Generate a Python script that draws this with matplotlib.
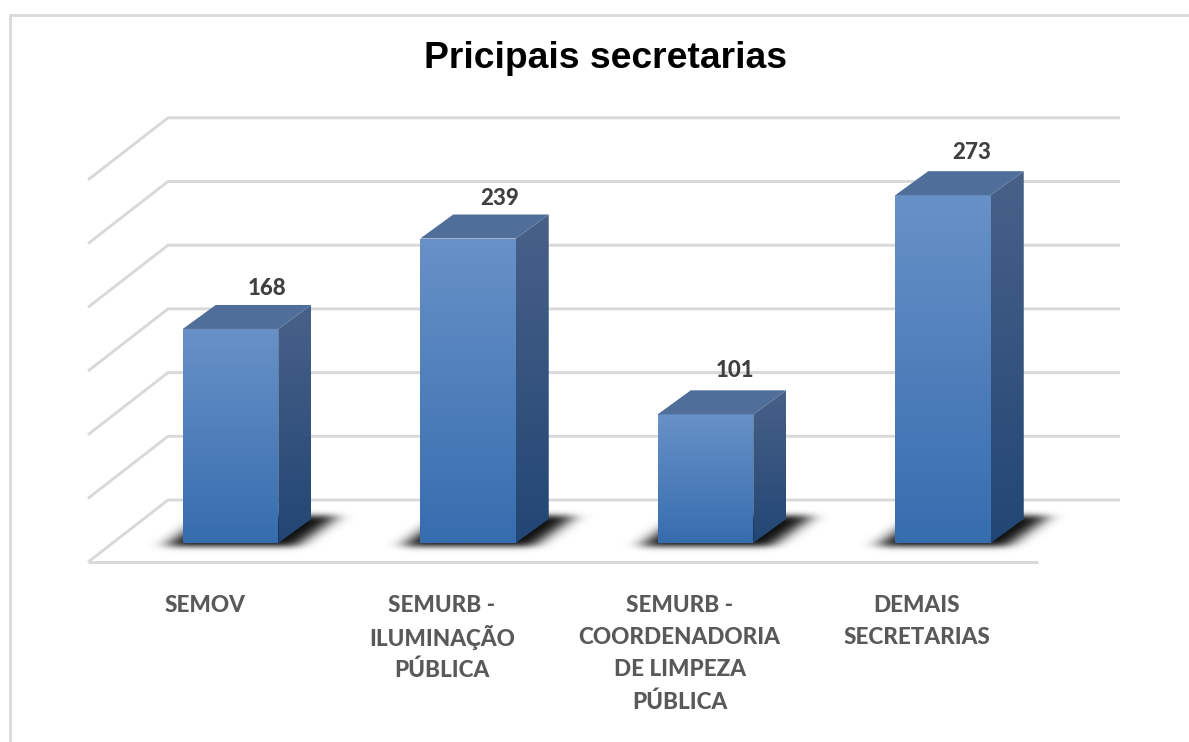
import numpy as np
import matplotlib
matplotlib.use("Agg")
import matplotlib.pyplot as plt
from matplotlib.patches import Polygon

categories = ["SEMOV", "SEMURB -\nILUMINAÇÃO\nPÚBLICA", "SEMURB -\nCOORDENADORIA\nDE LIMPEZA\nPÚBLICA", "DEMAIS\nSECRETARIAS"]
values = [168, 239, 101, 273]
grid_values = [0, 50, 100, 150, 200, 250, 300]
title = "Pricipais secretarias"

# one category step is 237.5 px, one unit of value is 1.274 px
px_x = 237.5
px_y = 1.274
bar_w = 95.5 / px_x
depth_x = 33 / px_x
depth_y = 24 / px_y
label_dx = [37, 32, 30, 29]
label_dy = [40, 40, 44, 43]

def grad(ax, poly, top, bottom, ext):
    c = np.linspace(0, 1, 256)[:, None, None]
    img = (1 - c) * np.array(top)[None, None, :] + c * np.array(bottom)[None, None, :]
    im = ax.imshow(img / 255, extent=ext, origin="upper", aspect="auto", zorder=5, interpolation="bilinear")
    p = Polygon(poly, closed=True, transform=ax.transData, fc="none", ec="none")
    ax.add_patch(p)
    im.set_clip_path(p)

def blur(a, sigma, axis):
    t = np.arange(-30, 31)
    k = np.exp(-t ** 2 / (2 * sigma ** 2))
    k = k / k.sum()
    return np.apply_along_axis(lambda m: np.convolve(m, k, mode="same"), axis, a)

def shadow(ax, l, r):
    # blurred sheared shape, built in pixels and placed under the bar
    w = int((r - l) * px_x)
    xs = np.arange(-70, w + 120)
    ys = np.arange(-55, 30)
    gx, gy = np.meshgrid(xs, ys)
    u = gx + gy * 33 / 24
    mask = ((u > -14) & (u < w + 22) & (gy > -28) & (gy < 4)).astype(float)
    mask = blur(blur(mask, 9, 1), 3, 0) * 0.95
    img = np.zeros(mask.shape + (4,))
    img[..., 3] = mask
    ax.imshow(img, extent=(l + xs[0] / px_x, l + xs[-1] / px_x, -ys[-1] / px_y, -ys[0] / px_y),
              origin="upper", aspect="auto", zorder=2, interpolation="bilinear")

fig = plt.figure(figsize=(11.89, 7.42), dpi=100)
ax = fig.add_axes([0, 0, 1, 1])
ax.axis("off")

grid_c = "#D9D9D9"
x0 = (88 - 230.5) / px_x
x1 = (168 - 230.5) / px_x
x2 = (1120 - 230.5) / px_x
x3 = (1038 - 230.5) / px_x
front = -15
back = 33.75
for v in grid_values:
    ax.plot([x0, x1, x2], [front + v, back + v, back + v], color=grid_c, lw=2.1, zorder=1, solid_capstyle="butt")
ax.plot([x0, x3], [front, front], color=grid_c, lw=2.1, zorder=1, solid_capstyle="butt")

# left and top border of the chart area
ax.plot([9.5 / 1189, 9.5 / 1189, 1], [0, 1 - 15 / 742, 1 - 15 / 742], color=grid_c, lw=2,
        transform=ax.transAxes, zorder=1)

for i, v in enumerate(values):
    l = i - bar_w / 2
    r = i + bar_w / 2
    shadow(ax, l, r)
    # side face
    grad(ax, [(r, 0), (r + depth_x, depth_y), (r + depth_x, v + depth_y), (r, v)],
         (72, 97, 137), (34, 70, 116), (r, r + depth_x, 0, v + depth_y))
    # front face
    grad(ax, [(l, 0), (r, 0), (r, v), (l, v)],
         (104, 145, 199), (54, 109, 175), (l, r, 0, v))
    # top face
    ax.add_patch(Polygon([(l, v), (r, v), (r + depth_x, v + depth_y), (l + depth_x, v + depth_y)],
                         closed=True, fc="#4F6E9A", ec="none", zorder=6))
    ax.text(i + label_dx[i] / px_x, v + label_dy[i] / px_y, str(v), ha="center", va="center",
            fontsize=16, fontweight=900, family="Lato", color="#404040", zorder=7)
    # category label, one line at a time because the spacing is fixed
    for k, line in enumerate(categories[i].split("\n")):
        ax.text(i - 26 / px_x, (543 - 606 - 32 * k) / px_y, line, ha="center", va="center",
                fontsize=16.2, fontweight=900, family="Lato", color="#595959", zorder=7)

ax.text(0.509, 1 - 59 / 742, title, transform=ax.transAxes, ha="center", va="center",
        fontsize=26.8, fontweight="bold", family="Liberation Sans", color="black")

ax.set_xlim(-230.5 / px_x, (1189 - 230.5) / px_x)
ax.set_ylim((543 - 742) / px_y, 543 / px_y)

fig.savefig("out.png", dpi=100)
